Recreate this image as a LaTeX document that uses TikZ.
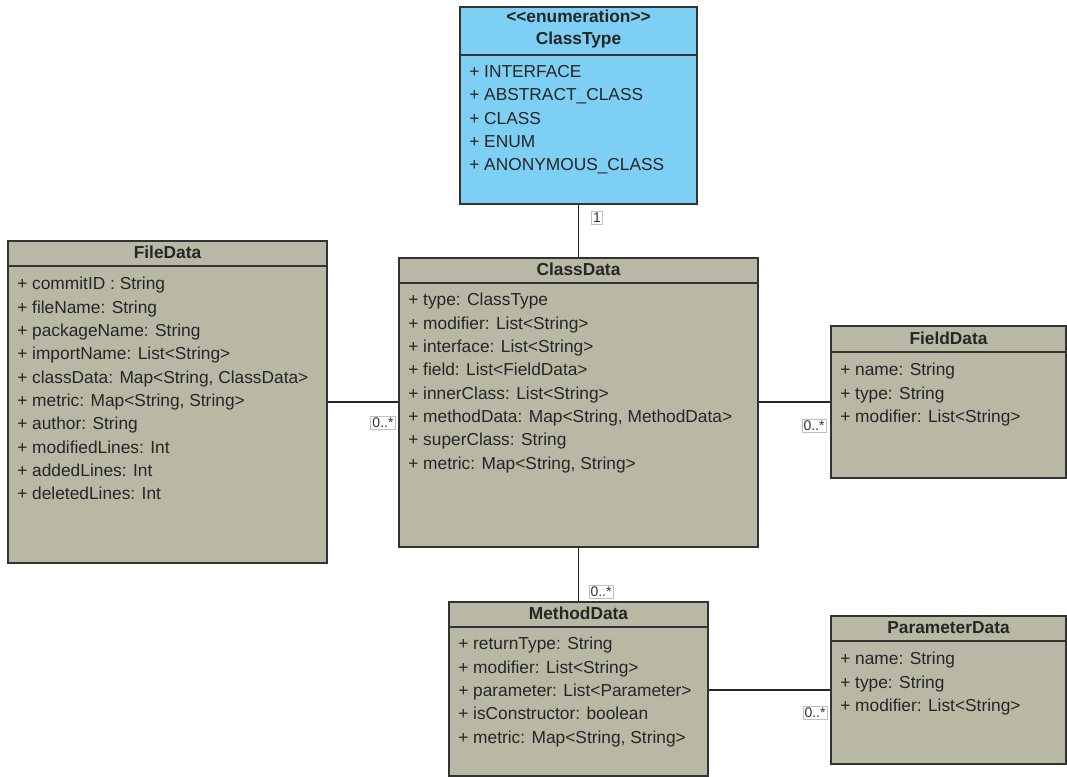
\documentclass[tikz,border=0pt]{standalone}
\usepackage{fontspec}
\setmainfont{Liberation Sans}
\usetikzlibrary{fit}
\definecolor{enumblue}{RGB}{126,207,244}
\definecolor{classgrey}{RGB}{185,184,164}
\tikzset{classbox/.style={draw=black!80, line width=1.1pt, fill=classgrey, inner sep=0pt}}
\tikzset{enumbox/.style={classbox, fill=enumblue}}
\tikzset{divider/.style={draw=black!80, line width=1.1pt}}
\tikzset{classname/.style={font=\fontsize{13}{15.8}\selectfont\bfseries, align=center, inner sep=0pt, text=black!85}}
\tikzset{members/.style={font=\fontsize{13}{17.5}\selectfont, align=left, anchor=north west, inner sep=0pt, text=black!85}}
\tikzset{assoc/.style={draw=black!85, line width=1.1pt}}
\tikzset{mult/.style={draw=black!25, fill=white, font=\fontsize{10.5}{11}\selectfont, inner sep=1.3pt, text=black!80}}

\begin{document}
\begin{tikzpicture}[x=0.75pt, y=-0.75pt]
  \useasboundingbox (0,0) rectangle (1067,776);

  % enumeration of class kinds
  \node[enumbox, fit={(460,7) (697,204)}] (classtype) {};
  \node[classname] (classtypeT) at (578.5,29) {{<}{<}enumeration{>}{>}\\ClassType};
  \draw[divider] (460,55) -- (697,55);
  \node[members] (classtypeM) at (469,65) {+ INTERFACE\\+ ABSTRACT\_CLASS\\+ CLASS\\+ ENUM\\+ ANONYMOUS\_CLASS};

  % FileData
  \node[classbox, fit={(8,241) (327,563)}] (filedata) {};
  \node[classname] (filedataT) at (167.5,252) {FileData};
  \draw[divider] (8,266) -- (327,266);
  \node[members] (filedataM) at (17,277) {+ commitID : String\\+ fileName: String\\+ packageName: String\\+ importName: List<String>\\+ classData: Map<String, ClassData>\\+ metric: Map<String, String>\\+ author: String\\+ modifiedLines: Int\\+ addedLines: Int\\+ deletedLines: Int};

  % ClassData
  \node[classbox, fit={(399,258) (758,547)}] (classdata) {};
  \node[classname] (classdataT) at (578.5,269) {ClassData};
  \draw[divider] (399,283) -- (758,283);
  \node[members] (classdataM) at (408,293) {+ type: ClassType\\+ modifier: List<String>\\+ interface: List<String>\\+ field: List<FieldData>\\+ innerClass: List<String>\\+ methodData: Map<String, MethodData>\\+ superClass: String\\+ metric: Map<String, String>};

  % FieldData
  \node[classbox, fit={(831,326) (1066,478)}] (fielddata) {};
  \node[classname] (fielddataT) at (948.5,338) {FieldData};
  \draw[divider] (831,352) -- (1066,352);
  \node[members] (fielddataM) at (840,363) {+ name: String\\+ type: String\\+ modifier: List<String>};

  % MethodData
  \node[classbox, fit={(449,602) (708,776)}] (methoddata) {};
  \node[classname] (methoddataT) at (578.5,613) {MethodData};
  \draw[divider] (449,627) -- (708,627);
  \node[members] (methoddataM) at (458,637) {+ returnType: String\\+ modifier: List<String>\\+ parameter: List<Parameter>\\+ isConstructor: boolean\\+ metric: Map<String, String>};

  % ParameterData
  \node[classbox, fit={(831,616) (1066,764)}] (paramdata) {};
  \node[classname] (paramdataT) at (948.5,628) {ParameterData};
  \draw[divider] (831,641) -- (1066,641);
  \node[members] (paramdataM) at (840,652) {+ name: String\\+ type: String\\+ modifier: List<String>};

  % associations
  \draw[assoc] (classtype) -- (classdata);
  \draw[assoc] (filedata.east) -- (filedata.east -| classdata.west);
  \draw[assoc] (fielddata.west -| classdata.east) -- (fielddata.west);
  \draw[assoc] (classdata) -- (methoddata);
  \draw[assoc] (paramdata.west -| methoddata.east) -- (paramdata.west);

  % multiplicities
  \node[mult] (m1) at (597,218) {1};
  \node[mult] (m2) at (383,423) {0..*};
  \node[mult] (m3) at (814,426) {0..*};
  \node[mult] (m4) at (601,592) {0..*};
  \node[mult] (m5) at (815,713) {0..*};
\end{tikzpicture}
\end{document}
